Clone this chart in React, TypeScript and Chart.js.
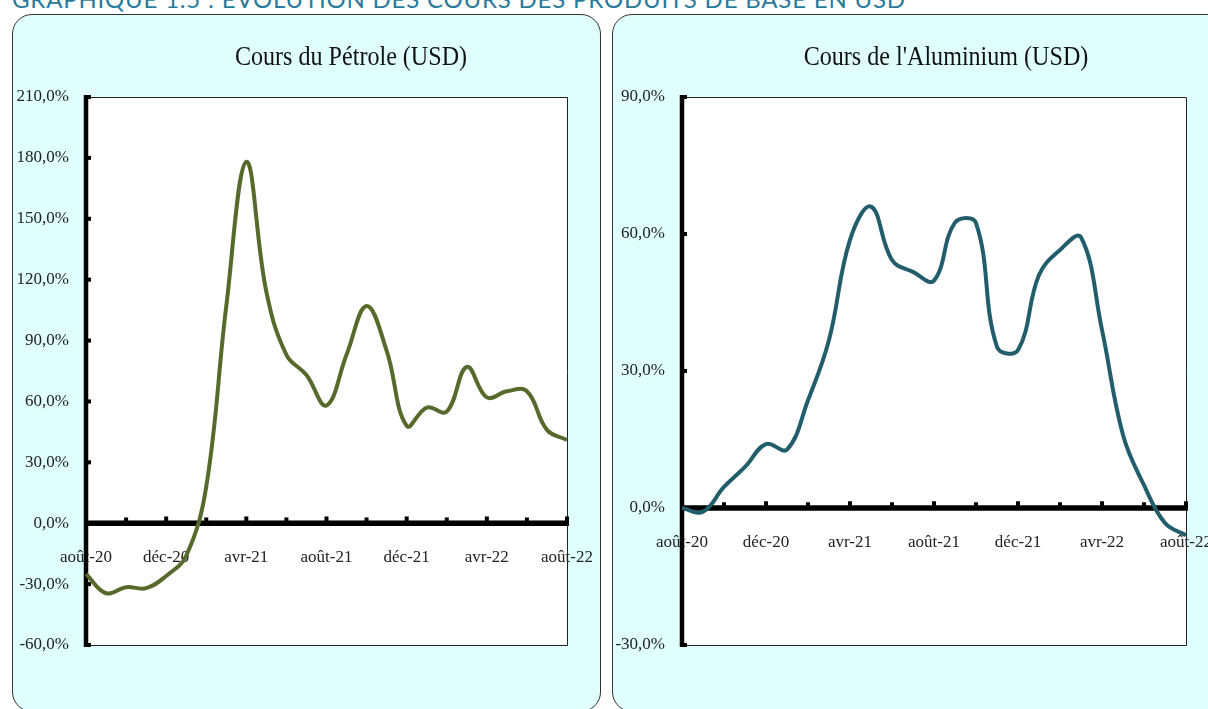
import React, { useEffect, useRef } from "react";
import { Chart, registerables } from "chart.js";

Chart.register(...registerables);

const months = [
  "août-20", "sept-20", "oct-20", "nov-20", "déc-20", "janv-21", "févr-21", "mars-21",
  "avr-21", "mai-21", "juin-21", "juil-21", "août-21", "sept-21", "oct-21", "nov-21",
  "déc-21", "janv-22", "févr-22", "mars-22", "avr-22", "mai-22", "juin-22", "juil-22", "août-22",
];

const petrolValues = [
  -25, -34.5, -31.5, -32, -26, -16, 18, 107, 178, 114, 83, 73, 58, 83, 107, 85,
  48, 57, 55, 77, 62, 65, 65, 46, 41,
];

const aluminiumValues = [
  0, -0.8, 4.6, 9, 14, 12.8, 23.6, 36.8, 58.7, 66, 54.3, 51.7, 49.8, 62.5, 62.4, 35.3,
  34.6, 51, 56.5, 59.3, 39, 16, 5, -3.3, -6,
];

const petrolAxis = [-60, 210, 30];
const aluminiumAxis = [-30, 90, 30];

const headerText = "GRAPHIQUE 1.5 : ÉVOLUTION DES COURS DES PRODUITS DE BASE EN USD";
const petrolTitle = "Cours du Pétrole (USD)";
const aluminiumTitle = "Cours de l'Aluminium (USD)";

const FONT = '"Liberation Serif", "DejaVu Serif", serif';

function fmtPct(v: number) {
  return v.toFixed(1).replace(".", ",") + "%";
}

function makeDecor(title: string, titleX: number) {
  return {
    id: "decor",
    beforeDraw(chart: any) {
      const { ctx, chartArea: a } = chart;
      ctx.save();
      ctx.fillStyle = "#ffffff";
      ctx.fillRect(a.left, a.top, a.right - a.left, a.bottom - a.top);
      ctx.font = `28px ${FONT}`;
      ctx.fillStyle = "#111111";
      ctx.textAlign = "center";
      ctx.textBaseline = "middle";
      ctx.translate(titleX, 44);
      ctx.scale(0.86, 1);
      ctx.fillText(title, 0, 0);
      ctx.restore();
    },
    beforeDatasetsDraw(chart: any) {
      const { ctx, chartArea: a, scales } = chart;
      const xs = scales.x;
      const ys = scales.y;
      const y0 = ys.getPixelForValue(0);
      ctx.save();
      ctx.strokeStyle = "#222222";
      ctx.lineWidth = 1;
      ctx.beginPath();
      ctx.moveTo(a.left, Math.round(a.top) + 0.5);
      ctx.lineTo(Math.round(a.right) + 0.5, Math.round(a.top) + 0.5);
      ctx.lineTo(Math.round(a.right) + 0.5, Math.round(a.bottom) + 0.5);
      ctx.lineTo(a.left, Math.round(a.bottom) + 0.5);
      ctx.stroke();
      ctx.fillStyle = "#000000";
      ctx.fillRect(a.left - 2.25, a.top - 2, 4.5, a.bottom - a.top + 4);
      ys.ticks.forEach((t: any) => {
        const py = ys.getPixelForValue(t.value);
        ctx.fillRect(a.left, py - 2, 5, 4);
      });
      ctx.fillRect(a.left, y0 - 2.75, a.right - a.left + 2, 5.5);
      for (let i = 0; i < months.length; i += 2) {
        const px = xs.getPixelForValue(i);
        const h = i % 4 === 0 ? 4 : 3;
        ctx.fillRect(px - 2, y0 - 2.75 - h, 4, h + 1);
      }
      ctx.restore();
    },
  };
}

type PanelProps = {
  left: number;
  width: number;
  values: number[];
  axis: number[];
  color: string;
  title: string;
  titleX: number;
  yWidth: number;
  padRight: number;
};

function LineChartPanel(p: PanelProps) {
  const ref = useRef<HTMLCanvasElement | null>(null);
  useEffect(() => {
    if (!ref.current) return;
    const chart = new Chart(ref.current, {
      type: "line",
      data: {
        labels: months,
        datasets: [
          {
            data: p.values,
            borderColor: p.color,
            borderWidth: 4,
            pointRadius: 0,
            tension: 0.4,
            fill: false,
          },
        ],
      },
      options: {
        animation: false,
        responsive: false,
        maintainAspectRatio: false,
        layout: { padding: { top: 83, bottom: 67, right: p.padRight, left: 0 } },
        plugins: {
          legend: { display: false },
          title: { display: false },
          tooltip: { enabled: false },
        },
        scales: {
          x: {
            type: "category",
            position: { y: 0 } as any,
            grid: { display: false, drawTicks: true, tickLength: 22 },
            border: { display: false },
            ticks: {
              autoSkip: false,
              maxRotation: 0,
              minRotation: 0,
              padding: 2,
              color: "#222222",
              font: { family: FONT, size: 17 },
              callback: (_v: any, i: number) => (i % 4 === 0 ? months[i] : ""),
            },
          },
          y: {
            position: "left",
            min: p.axis[0],
            max: p.axis[1],
            grid: { display: false, drawTicks: false },
            border: { display: false },
            ticks: {
              stepSize: p.axis[2],
              padding: 17,
              color: "#222222",
              font: { family: FONT, size: 17 },
              callback: (v: any) => fmtPct(Number(v)),
            },
            afterFit: (s: any) => {
              s.width = p.yWidth;
            },
          },
        },
      },
      plugins: [makeDecor(p.title, p.titleX)],
    } as any);
    return () => chart.destroy();
  }, []);
  return (
    <canvas
      ref={ref}
      width={p.width}
      height={698}
      style={{ position: "absolute", left: p.left, top: 14, width: p.width, height: 698 }}
    />
  );
}

export default function App() {
  return (
    <div
      style={{
        position: "absolute",
        left: 0,
        top: 0,
        width: 1208,
        height: 709,
        overflow: "hidden",
        background: "#ffffff",
      }}
    >
      <div
        style={{
          position: "absolute",
          left: 12,
          top: -12,
          fontFamily: "Lato, 'Open Sans', sans-serif",
          fontSize: 24,
          lineHeight: "22px",
          color: "#2a7b9b",
          whiteSpace: "nowrap",
          letterSpacing: 0.8,
        }}
      >
        {headerText}
      </div>
      <div
        style={{
          position: "absolute",
          left: 12,
          top: 14,
          width: 589,
          height: 698,
          boxSizing: "border-box",
          background: "#e0ffff",
          border: "1px solid #333",
          borderRadius: 20,
        }}
      />
      <div
        style={{
          position: "absolute",
          left: 612,
          top: 14,
          width: 640,
          height: 698,
          boxSizing: "border-box",
          background: "#e0ffff",
          border: "1px solid #333",
          borderRadius: 20,
        }}
      />
      <LineChartPanel
        left={12}
        width={589}
        values={petrolValues}
        axis={petrolAxis}
        color="#566b2b"
        title={petrolTitle}
        titleX={339}
        yWidth={74}
        padRight={34}
      />
      <LineChartPanel
        left={612}
        width={640}
        values={aluminiumValues}
        axis={aluminiumAxis}
        color="#215d6b"
        title={aluminiumTitle}
        titleX={334}
        yWidth={70}
        padRight={66}
      />
    </div>
  );
}
